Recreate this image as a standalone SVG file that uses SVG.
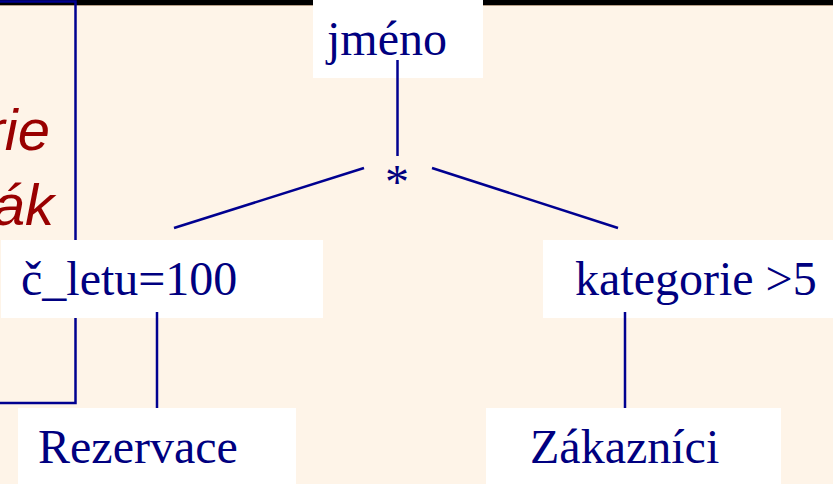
<svg xmlns="http://www.w3.org/2000/svg" width="833" height="484" viewBox="0 0 833 484">
  <style>
    .box { fill: #ffffff; }
    .lbl { font-family: "Liberation Serif", "Times New Roman", serif; font-size: 48px; fill: #000080; }
    .edge { stroke: #000090; stroke-width: 2.5; fill: none; }
    .note { font-family: "Liberation Sans", Arial, sans-serif; font-style: italic; font-size: 58px; fill: #990000; }
  </style>

  <!-- slide background and title bar -->
  <rect x="0" y="0" width="833" height="484" fill="#fef4e8"/>
  <rect x="0" y="0" width="833" height="5" fill="#000000"/>
  <rect x="0" y="5" width="833" height="1" fill="#b8a088"/>

  <!-- side panel with caption -->
  <g id="side-panel">
    <path class="edge" d="M -2 1.5 H 75.5 V 403 H -2"/>
    <text class="note" x="50" y="150" text-anchor="end">rie</text>
    <text class="note" x="54" y="225" text-anchor="end">ák</text>
  </g>

  <!-- query tree nodes -->
  <g id="node-jmeno">
    <rect class="box" x="313" y="0" width="170" height="78"/>
    <text class="lbl" x="327" y="55">jméno</text>
  </g>
  <g id="node-join">
    <text class="lbl" x="397" y="198" text-anchor="middle">*</text>
  </g>
  <g id="node-cletu">
    <rect class="box" x="1" y="240" width="322" height="78"/>
    <text class="lbl" x="21" y="295">č_letu=100</text>
  </g>
  <g id="node-kategorie">
    <rect class="box" x="543" y="240" width="290" height="78"/>
    <text class="lbl" x="575" y="295">kategorie &gt;5</text>
  </g>
  <g id="node-rezervace">
    <rect class="box" x="18" y="408" width="278" height="76"/>
    <text class="lbl" x="38" y="463">Rezervace</text>
  </g>
  <g id="node-zakaznici">
    <rect class="box" x="486" y="408" width="295" height="76"/>
    <text class="lbl" x="530" y="463">Zákazníci</text>
  </g>

  <!-- connectors -->
  <g id="connectors">
    <line class="edge" x1="397.5" y1="60" x2="397.5" y2="156"/>
    <line class="edge" x1="364" y1="168" x2="174" y2="228"/>
    <line class="edge" x1="432" y1="168" x2="618" y2="228"/>
    <line class="edge" x1="157" y1="312" x2="157" y2="408"/>
    <line class="edge" x1="625" y1="312" x2="625" y2="408"/>
  </g>
</svg>
